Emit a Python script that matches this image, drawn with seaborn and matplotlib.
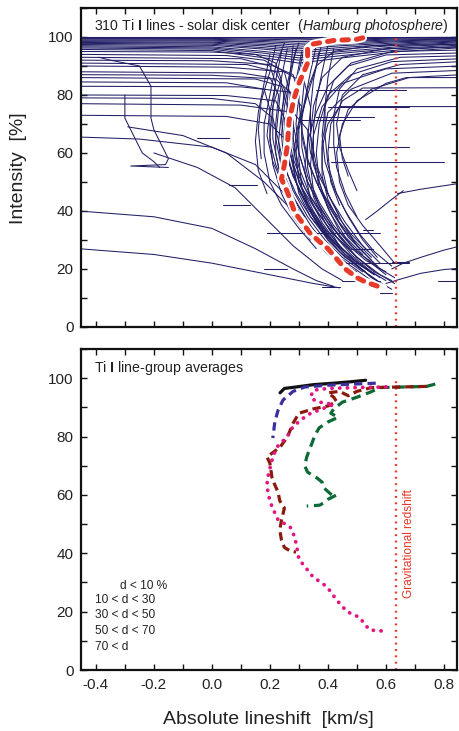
import numpy as np
import pandas as pd
import matplotlib
matplotlib.use("Agg")
import matplotlib.pyplot as plt
import seaborn as sns
from matplotlib.ticker import MultipleLocator

sns.set_theme(style="ticks")
plt.rcParams["font.family"] = ["Liberation Sans", "DejaVu Sans"]
plt.rcParams["mathtext.fontset"] = "custom"
plt.rcParams["mathtext.rm"] = "Liberation Sans"
plt.rcParams["mathtext.it"] = "Liberation Sans:italic"
plt.rcParams["mathtext.bf"] = "Liberation Sans:bold"

NAVY = "#221f66"
RED = "#e5392a"

# ---------------- data: top panel (individual bisectors) ----------------
band_x = [-0.46, 0.0, 0.18, 0.30, 0.45, 0.65, 0.86]
band_y = [
    [100.0, 100.0, 100.0, 100.0, 100.0, 100.0, 100.0],
    [99.8, 99.8, 99.6, 99.5, 99.7, 99.8, 99.9],
    [99.5, 99.5, 99.2, 99.0, 99.3, 99.6, 99.7],
    [99.3, 99.2, 98.8, 98.4, 98.9, 99.3, 99.5],
    [99.0, 98.9, 98.4, 97.8, 98.5, 99.0, 99.3],
    [98.7, 98.6, 97.9, 97.2, 98.0, 98.7, 99.1],
    [98.4, 98.2, 97.4, 96.5, 97.5, 98.4, 98.8],
    [98.1, 97.9, 96.9, 95.9, 97.0, 98.0, 98.6],
    [97.8, 97.5, 96.3, 95.2, 96.4, 97.6, 98.3],
    [97.4, 97.1, 95.8, 94.5, 95.8, 97.2, 98.0],
    [97.0, 96.6, 95.0, 93.6, 95.0, 96.7, 97.6],
    [96.6, 96.2, 94.4, 92.8, 94.4, 96.2, 97.2],
    [96.2, 95.8, 93.6, 92.0, 93.6, 95.6, 96.8],
    [95.7, 95.3, 92.8, 91.0, 92.8, 95.0, 96.3],
]

core_left = [
    [(-0.46, 95.0), (0.0, 94.8), (0.15, 94), (0.22, 91), (0.24, 85), (0.23, 75), (0.22, 65), (0.24, 55), (0.28, 45), (0.34, 35), (0.41, 26), (0.48, 20), (0.52, 17)],
    [(-0.46, 94.0), (0.05, 93.6), (0.18, 92), (0.25, 88), (0.27, 80), (0.26, 70), (0.27, 60), (0.30, 50), (0.35, 40), (0.40, 32), (0.46, 25), (0.52, 21)],
    [(-0.46, 93.0), (0.10, 92.5), (0.20, 90), (0.22, 84), (0.20, 74), (0.20, 64), (0.22, 56), (0.26, 46), (0.31, 37), (0.37, 28), (0.43, 22)],
    [(-0.46, 92.0), (0.0, 91.8), (0.20, 90.5), (0.28, 87), (0.30, 80), (0.29, 70), (0.30, 60), (0.33, 50), (0.38, 40), (0.44, 31), (0.50, 24), (0.56, 19)],
    [(-0.46, 91.0), (0.12, 90.5), (0.22, 88), (0.25, 82), (0.24, 72), (0.25, 62), (0.28, 52), (0.32, 44), (0.37, 36), (0.42, 29)],
    [(-0.46, 90.0), (0.05, 89.6), (0.25, 88), (0.32, 84), (0.34, 76), (0.34, 66), (0.36, 56), (0.40, 46), (0.45, 36), (0.50, 28), (0.55, 23)],
    [(-0.46, 88.0), (0.10, 87.6), (0.20, 86), (0.23, 80), (0.22, 70), (0.22, 60), (0.24, 50), (0.28, 40), (0.34, 32)],
    [(-0.46, 87.0), (0.0, 86.8), (0.22, 85.5), (0.28, 80), (0.28, 70), (0.30, 60), (0.33, 50), (0.37, 42), (0.42, 34), (0.48, 27)],
    [(-0.46, 86.0), (0.15, 85.5), (0.24, 83), (0.26, 76), (0.25, 66), (0.27, 56), (0.30, 47), (0.35, 38), (0.40, 30), (0.46, 24), (0.53, 19)],
    [(-0.46, 84.5), (0.05, 84.2), (0.18, 82), (0.20, 75), (0.19, 66), (0.21, 57), (0.25, 48), (0.30, 40)],
    [(-0.46, 83.0), (0.10, 82.8), (0.27, 81), (0.31, 76), (0.31, 66), (0.33, 57), (0.37, 48), (0.42, 40), (0.48, 32), (0.54, 26)],
    [(-0.46, 80.0), (0.05, 79.8), (0.22, 78), (0.25, 72), (0.25, 62), (0.28, 52), (0.32, 44), (0.38, 35), (0.45, 27), (0.52, 21), (0.58, 17)],
    [(-0.46, 79.0), (0.0, 78.8), (0.15, 77), (0.21, 72), (0.23, 64), (0.25, 55), (0.29, 46), (0.34, 38), (0.40, 30), (0.46, 24)],
    [(-0.46, 77.0), (0.10, 76.5), (0.28, 74), (0.33, 68), (0.34, 60), (0.37, 52), (0.41, 44), (0.46, 36), (0.52, 28), (0.58, 22)],
    [(-0.46, 73.0), (0.05, 72.6), (0.20, 70), (0.26, 64), (0.28, 56), (0.31, 48), (0.36, 40), (0.42, 32), (0.48, 25), (0.55, 19), (0.60, 16)],
]

core_right = [
    [(0.86, 97.5), (0.55, 97), (0.42, 95), (0.36, 90), (0.33, 82), (0.31, 72), (0.31, 62), (0.33, 52), (0.37, 43), (0.42, 35), (0.48, 28), (0.55, 22), (0.60, 18)],
    [(0.86, 96.5), (0.60, 96), (0.45, 93), (0.38, 86), (0.35, 76), (0.34, 66), (0.35, 56), (0.38, 47), (0.42, 39), (0.47, 31), (0.53, 25)],
    [(0.86, 95.5), (0.62, 95), (0.48, 91), (0.42, 85), (0.39, 76), (0.38, 66), (0.39, 57), (0.42, 48), (0.46, 40), (0.51, 32), (0.56, 26), (0.62, 21)],
    [(0.86, 94.5), (0.60, 93.8), (0.47, 90), (0.40, 83), (0.36, 74), (0.33, 64), (0.32, 54), (0.34, 44), (0.38, 36), (0.43, 29), (0.49, 23), (0.56, 18)],
    [(0.86, 93.5), (0.65, 93), (0.50, 89), (0.44, 82), (0.42, 73), (0.42, 63), (0.43, 55), (0.46, 46), (0.50, 38)],
    [(0.86, 92.5), (0.62, 91.5), (0.48, 87), (0.40, 80), (0.37, 70), (0.36, 60), (0.37, 50), (0.40, 41), (0.44, 33), (0.50, 26), (0.57, 21)],
    [(0.86, 91.5), (0.65, 90.5), (0.52, 87), (0.45, 80), (0.43, 70), (0.44, 62), (0.47, 54), (0.50, 47)],
    [(0.86, 90.0), (0.60, 89), (0.45, 84), (0.38, 76), (0.35, 66), (0.34, 56), (0.35, 47), (0.38, 39), (0.43, 31), (0.50, 24), (0.58, 18), (0.63, 15)],
    [(0.86, 88.5), (0.62, 87.5), (0.48, 82), (0.40, 74), (0.38, 64), (0.38, 55), (0.40, 46), (0.44, 38)],
    [(0.86, 87.0), (0.68, 86), (0.55, 82), (0.47, 75), (0.44, 66), (0.45, 58), (0.47, 52)],
    [(0.86, 86.0), (0.67, 86), (0.60, 84), (0.50, 78), (0.45, 70), (0.43, 60), (0.44, 50), (0.47, 42), (0.52, 35), (0.58, 28), (0.63, 22)],
    [(0.86, 82.5), (0.52, 82.4), (0.45, 78), (0.41, 70), (0.40, 60), (0.41, 50), (0.44, 42)],
    [(0.86, 76.0), (0.44, 76), (0.40, 70), (0.38, 62), (0.38, 52), (0.40, 44), (0.44, 36), (0.49, 30), (0.55, 24)],
]

core_mid = [
    [(0.30, 98), (0.28, 92), (0.26, 84), (0.24, 74), (0.23, 64), (0.24, 54), (0.27, 45), (0.32, 36), (0.38, 28), (0.45, 22), (0.50, 19)],
    [(0.34, 98), (0.31, 90), (0.29, 80), (0.27, 70), (0.27, 60), (0.29, 50), (0.33, 41), (0.38, 33), (0.44, 26), (0.50, 21), (0.57, 16)],
    [(0.25, 98), (0.22, 90), (0.20, 80), (0.18, 70), (0.18, 60), (0.20, 50), (0.24, 42), (0.30, 34), (0.36, 27)],
    [(0.38, 98), (0.36, 90), (0.33, 80), (0.30, 70), (0.29, 60), (0.30, 50), (0.34, 40), (0.40, 31), (0.47, 24), (0.54, 18), (0.60, 14)],
    [(0.28, 97), (0.27, 88), (0.26, 78), (0.26, 68), (0.28, 58), (0.32, 48), (0.37, 40)],
    [(0.32, 97), (0.30, 88), (0.30, 78), (0.31, 68), (0.33, 58), (0.36, 50), (0.40, 42), (0.45, 34), (0.51, 27), (0.58, 20), (0.63, 17)],
    [(0.22, 97), (0.20, 88), (0.17, 78), (0.16, 68), (0.17, 58)],
    [(0.36, 97), (0.34, 88), (0.32, 78), (0.30, 68), (0.30, 58), (0.31, 48), (0.35, 38), (0.41, 30), (0.48, 23), (0.55, 17), (0.62, 13)],
    [(0.26, 96), (0.24, 86), (0.21, 76), (0.20, 66), (0.21, 56), (0.24, 46), (0.28, 38), (0.34, 30)],
    [(0.40, 97), (0.38, 88), (0.36, 78), (0.35, 68), (0.35, 58), (0.37, 48), (0.41, 39), (0.46, 31), (0.52, 25)],
    [(0.29, 96), (0.27, 86), (0.25, 76), (0.24, 66), (0.25, 56), (0.28, 47), (0.33, 38), (0.39, 30), (0.45, 24), (0.52, 19)],
    [(0.33, 96), (0.32, 86), (0.31, 76), (0.29, 66), (0.28, 56), (0.30, 46), (0.34, 38), (0.40, 31), (0.46, 26)],
    [(0.24, 95), (0.22, 85), (0.21, 75), (0.21, 65), (0.23, 55), (0.27, 46), (0.32, 38)],
    [(0.37, 95), (0.35, 85), (0.34, 75), (0.33, 65), (0.33, 55), (0.35, 45), (0.39, 36), (0.44, 28), (0.50, 22), (0.56, 18)],
    [(0.42, 96), (0.40, 86), (0.39, 76), (0.39, 66), (0.40, 56), (0.43, 46), (0.47, 38), (0.52, 30), (0.57, 24)],
    [(0.31, 95), (0.29, 85), (0.28, 75), (0.28, 65), (0.30, 55), (0.34, 45), (0.40, 36), (0.46, 29), (0.53, 23), (0.60, 19)],
    [(0.20, 94), (0.18, 84), (0.16, 74), (0.15, 64), (0.16, 54), (0.19, 46)],
    [(0.35, 99), (0.33, 92), (0.30, 82), (0.28, 72), (0.28, 62), (0.30, 52), (0.35, 42), (0.41, 33), (0.49, 25), (0.56, 19), (0.62, 16)],
]

strong_lines = [
    [(-0.46, 40), (-0.2, 38), (0.0, 34), (0.15, 27), (0.28, 20), (0.36, 16), (0.42, 14)],
    [(-0.46, 27), (-0.2, 25), (0.0, 22), (0.2, 18), (0.35, 15), (0.44, 13.5)],
    [(-0.46, 65.5), (-0.25, 64.8), (0.0, 62), (0.15, 56), (0.25, 46), (0.32, 36), (0.40, 27), (0.48, 21), (0.55, 16), (0.60, 14)],
    [(-0.29, 69), (-0.1, 66), (0.05, 60), (0.18, 50), (0.28, 40), (0.36, 30), (0.45, 22), (0.52, 17)],
    [(-0.20, 60), (-0.05, 55), (0.08, 48), (0.18, 38), (0.28, 28), (0.38, 20), (0.45, 16)],
]

wander_lines = [
    [(-0.39, 93), (-0.35, 92), (-0.25, 90), (-0.21, 83), (-0.21, 72), (-0.20, 68), (-0.17, 62), (-0.15, 58), (-0.16, 56), (-0.28, 55.5), (-0.15, 55)],
    [(-0.30, 80), (-0.30, 72), (-0.27, 66), (-0.24, 60), (-0.20, 57), (-0.18, 55)],
]

right_lines = [
    [(0.64, 46), (0.72, 47.5), (0.86, 49.6)],
    [(0.53, 37), (0.57, 40), (0.62, 44), (0.66, 47)],
    [(0.62, 20), (0.66, 22), (0.72, 24), (0.80, 26.5), (0.86, 28)],
    [(0.60, 15), (0.65, 16.5), (0.72, 18.5), (0.80, 19.8), (0.86, 20.3)],
]

# short horizontal spikes: (x start, x end, intensity)
spikes = [
    (0.36, 0.56, 72.4), (0.40, 0.68, 62.2), (0.41, 0.80, 56.8), (0.36, 0.67, 81.7),
    (0.30, 0.51, 71.4), (0.19, 0.58, 32.5), (0.06, 0.155, 49), (0.04, 0.13, 42),
    (0.19, 0.245, 32.4), (0.18, 0.26, 20), (0.48, 0.555, 27), (0.62, 0.68, 22.4),
    (0.78, 0.85, 16), (0.38, 0.44, 13.8), (0.58, 0.62, 11.7), (0.52, 0.555, 33.4),
    (0.45, 0.58, 16), (-0.05, 0.06, 65), (0.45, 0.68, 22.0), (0.40, 0.68, 75.9),
]

# mean bisector (red)
avg_x = [0.52, 0.50, 0.42, 0.35, 0.33, 0.33, 0.30, 0.284, 0.266, 0.26, 0.25, 0.24, 0.26,
         0.286, 0.338, 0.37, 0.40, 0.43, 0.46, 0.50, 0.53, 0.59]
avg_y = [99.7, 99.2, 98.8, 97.6, 96.0, 91.0, 84.0, 79.0, 71.0, 62.4, 56.0, 51.0, 46.6,
         39.5, 32.4, 29.5, 27.0, 23.5, 20.0, 17.0, 15.5, 13.4]

grav_redshift = 0.636

# ---------------- data: bottom panel (line-group averages) ----------------
black_x = [0.235, 0.25, 0.29, 0.35, 0.42, 0.48, 0.53]
black_y = [95.0, 96.5, 97.0, 97.8, 98.3, 98.8, 99.3]

blue_x = [0.565, 0.49, 0.40, 0.32, 0.28, 0.245, 0.228, 0.217, 0.21]
blue_y = [98.3, 98.0, 97.6, 97.0, 95.5, 92.5, 89.0, 85.0, 79.5]

green_x = [0.77, 0.74, 0.66, 0.58, 0.545, 0.50, 0.45, 0.42, 0.41, 0.435, 0.40, 0.37, 0.355,
           0.345, 0.338, 0.327, 0.32, 0.33, 0.36, 0.38, 0.383, 0.413, 0.43, 0.40, 0.383, 0.372, 0.327]
green_y = [98.0, 97.2, 97.0, 96.8, 95.2, 93.5, 91.8, 89.5, 88.0, 86.6, 85.0, 83.0, 80.5,
           77.7, 76.0, 73.0, 70.0, 67.8, 66.0, 64.4, 62.7, 60.0, 60.0, 58.5, 57.2, 56.5, 56.2]

brown_x = [0.74, 0.65, 0.55, 0.50, 0.47, 0.44, 0.40, 0.42, 0.43, 0.40, 0.35, 0.30, 0.28, 0.26,
           0.235, 0.19, 0.20, 0.207, 0.21, 0.228, 0.234, 0.25, 0.24, 0.234, 0.24, 0.25, 0.27, 0.29]
brown_y = [97.2, 97.0, 96.8, 95.5, 94.0, 95.5, 95.0, 93.5, 92.0, 90.5, 89.5, 88.0, 84.6, 79.8,
           76.4, 73.0, 70.9, 66.0, 65.0, 61.0, 58.0, 55.5, 51.4, 48.0, 44.5, 42.0, 40.8, 40.4]

pink_x = [0.60, 0.50, 0.40, 0.35, 0.34, 0.36, 0.42, 0.38, 0.33, 0.28, 0.26, 0.225, 0.21, 0.20,
          0.19, 0.193, 0.207, 0.228, 0.27, 0.286, 0.293, 0.30, 0.348, 0.397, 0.43, 0.466, 0.51,
          0.528, 0.545, 0.586]
pink_y = [97.0, 96.8, 96.5, 95.9, 93.5, 92.0, 91.0, 89.5, 87.5, 83.5, 80.0, 76.5, 73.0, 69.0,
          65.0, 60.5, 56.0, 51.5, 49.0, 45.5, 42.0, 38.0, 32.0, 28.5, 24.0, 20.0, 18.0,
          15.5, 13.7, 13.4]

legend_labels = ["d < 10 %", "10 < d < 30", "30 < d < 50", "50 < d < 70", "70 < d"]

# ---------------- build long table for the bisectors ----------------
rows = []
lid = 0
for ys in band_y:
    for x, y in zip(band_x, ys):
        rows.append((lid, x, y))
    lid += 1
for group in (core_left, core_right, core_mid, strong_lines, wander_lines, right_lines):
    for line in group:
        for x, y in line:
            rows.append((lid, x, y))
        lid += 1
for x0, x1, y in spikes:
    rows.append((lid, x0, y))
    rows.append((lid, x1, y))
    lid += 1
df_top = pd.DataFrame(rows, columns=["line", "x", "y"])


def draw(ax, x, y, color, lw, ls="-", cap=None):
    sns.lineplot(x=x, y=y, sort=False, estimator=None, color=color, lw=lw, ax=ax,
                 legend=False)
    ln = ax.lines[-1]
    ln.set_linestyle(ls)
    if cap:
        ln.set_dash_capstyle(cap)
        ln.set_solid_capstyle(cap)
    return ln


# ---------------- figure ----------------
fig = plt.figure(figsize=(4.59, 7.31), dpi=100)
ax1 = fig.add_axes([0.1754, 0.5527, 0.8202, 0.4364])
ax2 = fig.add_axes([0.1754, 0.0834, 0.8202, 0.4391])

sns.lineplot(data=df_top, x="x", y="y", units="line", estimator=None, sort=False,
             color=NAVY, lw=0.75, ax=ax1, legend=False)

draw(ax1, [grav_redshift, grav_redshift], [0, 100], RED, 1.7, (0, (0.8, 1.9)))
wl = draw(ax1, avg_x, avg_y, "white", 6.2, "-", "round")
wl.set_solid_joinstyle("round")
draw(ax1, avg_x, avg_y, RED, 3.6, (0, (1.3, 1.6)), "round")

# bottom panel
draw(ax2, [grav_redshift, grav_redshift], [0, 100], RED, 1.7, (0, (0.8, 1.9)))
draw(ax2, black_x, black_y, "#111111", 2.3, "-")
draw(ax2, blue_x, blue_y, "#3a2f9e", 2.3, (0, (2.6, 1.6)))
draw(ax2, green_x, green_y, "#0b6a36", 2.3, (0, (3.0, 1.8)))
draw(ax2, brown_x, brown_y, "#8a1a0e", 2.3, (0, (2.6, 1.5)))
draw(ax2, pink_x, pink_y, "#e3147f", 2.7, (0, (0.05, 2.0)), "round")

# ---------------- axes styling ----------------
for ax in (ax1, ax2):
    ax.set_xlim(-0.453, 0.845)
    ax.set_ylim(0, 110)
    ax.set_yticks([0, 20, 40, 60, 80, 100])
    ax.xaxis.set_minor_locator(MultipleLocator(0.1))
    ax.yaxis.set_minor_locator(MultipleLocator(10))
    ax.tick_params(which="both", direction="in", top=True, right=True, length=4,
                   width=1.0, color="#111111")
    ax.tick_params(axis="y", labelsize=11, pad=5, labelcolor="#222222")
    ax.tick_params(axis="x", labelsize=11, pad=6, labelcolor="#222222")
    for s in ax.spines.values():
        s.set_linewidth(1.6)
        s.set_color("#111111")
    ax.set_xlabel("")
    ax.set_ylabel("")

ax1.set_xticks([-0.4, -0.2, 0.0, 0.2, 0.4, 0.6, 0.8])
ax1.tick_params(labelbottom=False)
ax2.set_xticks([-0.4, -0.2, 0.0, 0.2, 0.4, 0.6, 0.8])
ax2.set_xticklabels(["-0.4", "-0.2", "0.0", "0.2", "0.4", "0.6", "0.8"])

ax1.text(-0.405, 103.8,
         r"310 Ti $\mathbf{I}$ lines - solar disk center  ($\mathit{Hamburg\ photosphere}$)",
         fontsize=10.2, ha="left", va="center", color="#222222")
ax2.text(-0.405, 103.4, r"Ti $\mathbf{I}$ line-group averages",
         fontsize=10.2, ha="left", va="center", color="#222222")

leg_x = [-0.317, -0.403, -0.403, -0.403, -0.403]
leg_y = [28.8, 24.0, 18.8, 13.4, 7.9]
for lx, ly, lab in zip(leg_x, leg_y, legend_labels):
    ax2.text(lx, ly, lab, fontsize=8.6, ha="left", va="center", color="#222222")

ax2.text(0.68, 43.5, "Gravitational redshift", rotation=90, fontsize=8.6,
         ha="center", va="center", color=RED)

fig.text(0.040, 1 - 168 / 731, "Intensity  [%]", rotation=90, ha="center", va="center",
         fontsize=14, color="#222222")
fig.text(268 / 459, 1 - 720 / 731, "Absolute lineshift  [km/s]", ha="center", va="center",
         fontsize=14, color="#222222")

fig.savefig("out.png", dpi=100)
